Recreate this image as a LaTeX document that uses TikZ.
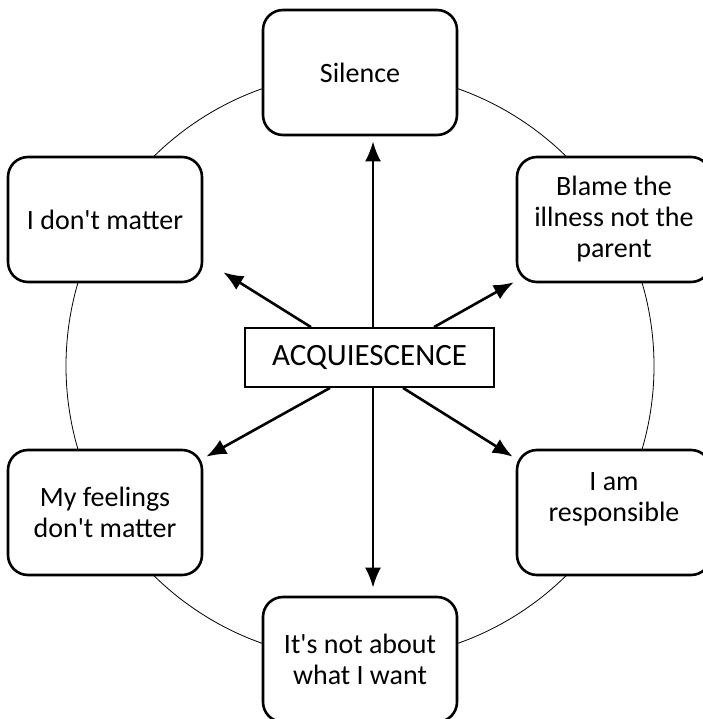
\documentclass[tikz,border=0pt]{standalone}
\usepackage{fontspec}
\setmainfont{Carlito}[Ligatures=TeXOff]
\usetikzlibrary{arrows.meta}
\usetikzlibrary{positioning}
\tikzset{
    thought/.style={ % rounded boxes sitting on the ring
    rectangle, rounded corners=20pt, draw, line width=2.6pt, fill=white,
    minimum width=194pt, minimum height=125pt, inner sep=0pt,
    align=center, font=\fontsize{28}{31}\selectfont},
    core/.style={ % the centre box
    rectangle, draw, line width=1.8pt, fill=white,
    minimum width=249pt, minimum height=59pt,
    font=\fontsize{31}{34}\selectfont},
    push/.style={-{Latex[length=20pt,width=16pt]}, line width=2.6pt}}

\begin{document}
\begin{tikzpicture}[x=1pt, y=-1pt]
        \useasboundingbox (0,0) rectangle (702,719);

        % Ring behind everything
        \draw[line width=0.8pt] (360,366) circle (294pt);

        % Thoughts around the ring
        \node[thought] (silence) at (360,72.5) {Silence};
        \node[thought] (dontmatter) at (105,219.5) {I don't matter};
        \node[thought] (blame) at (614,219.5) {Blame the\\illness not the\\parent};
        \node[thought] (feelings) at (105,512.5) {My feelings\\don't matter};
        \node[thought] (responsible) at (614,512.5) {I am\\responsible\\\mbox{}};
        \node[thought] (notabout) at (360,659.5) {It's not about\\what I want};

        % Centre
        \node[core] (acq) at (369.5,357.5) {ACQUIESCENCE};

        % Arrows out of the centre
        \draw[push] ([xshift=3.5pt]acq.north) -- ([xshift=13pt,yshift=-5pt]silence.south);
        \draw[push] ([xshift=3.5pt]acq.south) -- ([xshift=13pt,yshift=8pt]notabout.north);
        \draw[push] ([xshift=-58.5pt]acq.north) -- ([xshift=20pt,yshift=11pt]dontmatter.south east);
        \draw[push] ([xshift=64.5pt]acq.north) -- ([xshift=-2pt,yshift=1pt]blame.south west);
        \draw[push] ([xshift=-39.5pt]acq.south) -- ([xshift=3pt,yshift=-8pt]feelings.north east);
        \draw[push] ([xshift=33.5pt]acq.south) -- ([xshift=-3pt,yshift=-8pt]responsible.north west);

\end{tikzpicture}
\end{document}
